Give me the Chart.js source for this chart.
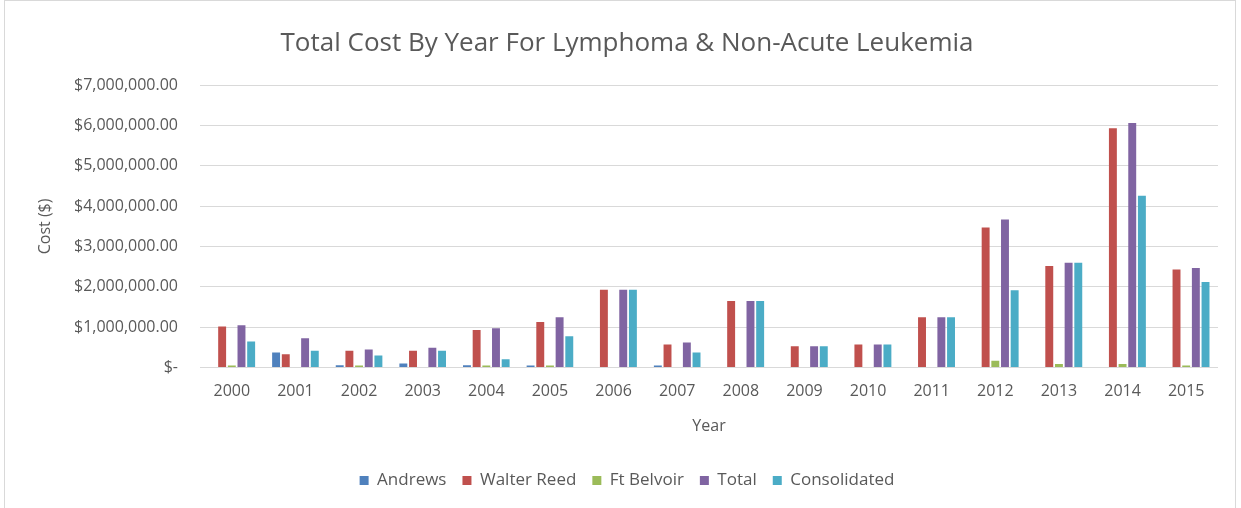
<!DOCTYPE html>
<html lang="en">
<head>
    <meta charset="UTF-8">
    <title>Total Cost By Year</title>
    <script src="https://cdn.jsdelivr.net/npm/chart.js"></script>
    <style>
        body { margin: 0; background-color: #ffffff; }
        #wrap {
            position: absolute; left: 4px; top: 0px;
            width: 1232px; height: 520px;
            border: 1px solid #d9d9d9; box-sizing: border-box;
        }
        #myChart { position: absolute; left: -5px; top: 0px; }
    </style>
</head>
<body>
    <div id="wrap">
        <canvas id="myChart" width="1241" height="508" style="width:1241px;height:508px"></canvas>
    </div>
    <script>
        const years = ['2000', '2001', '2002', '2003', '2004', '2005', '2006', '2007',
                       '2008', '2009', '2010', '2011', '2012', '2013', '2014', '2015']
        const andrews      = [0, 375000, 60000, 100000, 60000, 50000, 0, 50000, 0, 0, 0, 0, 0, 0, 0, 0]
        const walterReed   = [1020000, 330000, 420000, 420000, 930000, 1130000, 1930000, 575000,
                              1650000, 530000, 575000, 1250000, 3470000, 2520000, 5930000, 2430000]
        const ftBelvoir    = [50000, 0, 50000, 0, 50000, 50000, 0, 0, 0, 0, 0, 0, 170000, 90000, 90000, 50000]
        const total        = [1050000, 725000, 450000, 490000, 975000, 1250000, 1930000, 620000,
                              1650000, 530000, 575000, 1250000, 3670000, 2600000, 6060000, 2470000]
        const consolidated = [650000, 420000, 300000, 420000, 210000, 780000, 1930000, 375000,
                              1650000, 530000, 575000, 1250000, 1920000, 2600000, 4260000, 2120000]
        const yTicks = [0, 1000000, 2000000, 3000000, 4000000, 5000000, 6000000, 7000000]

        const grey = '#595959'
        const fontName = "'Open Sans', sans-serif"

        function serie(label, data, color) {
            return {
                label: label, data: data, backgroundColor: color, borderWidth: 0,
                categoryPercentage: 0.76, barPercentage: 0.82
            }
        }

        var ctx = document.getElementById('myChart')
        var myChart = new Chart(ctx, {
            type: 'bar',
            data: {
                labels: years,
                datasets: [
                    serie('Andrews', andrews, '#4F81BD'),
                    serie('Walter Reed', walterReed, '#C0504D'),
                    serie('Ft Belvoir', ftBelvoir, '#9BBB59'),
                    serie('Total', total, '#8064A2'),
                    serie('Consolidated', consolidated, '#4BACC6')
                ]
            },
            options: {
                responsive: false,
                animation: false,
                layout: { padding: { left: 36, right: 23, top: 0, bottom: 10 } },
                plugins: {
                    title: {
                        display: true,
                        text: 'Total Cost By Year For Lymphoma & Non-Acute Leukemia',
                        color: grey,
                        font: { family: fontName, size: 26, weight: 'normal' },
                        padding: { top: 27, bottom: 26 }
                    },
                    legend: {
                        position: 'bottom',
                        labels: {
                            color: grey,
                            font: { family: fontName, size: 17 },
                            boxWidth: 9, boxHeight: 9, padding: 16
                        }
                    },
                    tooltip: { enabled: false }
                },
                scales: {
                    x: {
                        grid: { display: false, drawTicks: false },
                        border: { display: false },
                        ticks: { color: grey, font: { family: fontName, size: 16 }, padding: 14 },
                        title: {
                            display: true, text: 'Year', color: grey,
                            font: { family: fontName, size: 16 }, padding: { top: 2, bottom: 20 }
                        }
                    },
                    y: {
                        min: 0, max: 7000000,
                        afterBuildTicks: (scale) => { scale.ticks = yTicks.map(v => ({ value: v })) },
                        afterFit: (scale) => { scale.width = 164 },
                        grid: { color: '#d9d9d9', drawTicks: false },
                        border: { display: false },
                        ticks: {
                            color: grey, font: { family: fontName, size: 16 }, padding: 22,
                            callback: (v) => v === 0 ? '$-' :
                                '$' + v.toLocaleString('en-US', { minimumFractionDigits: 2 })
                        },
                        title: {
                            display: true, text: 'Cost ($)', color: grey,
                            font: { family: fontName, size: 16 }, padding: 0
                        }
                    }
                }
            }
        })
    </script>
</body>
</html>
